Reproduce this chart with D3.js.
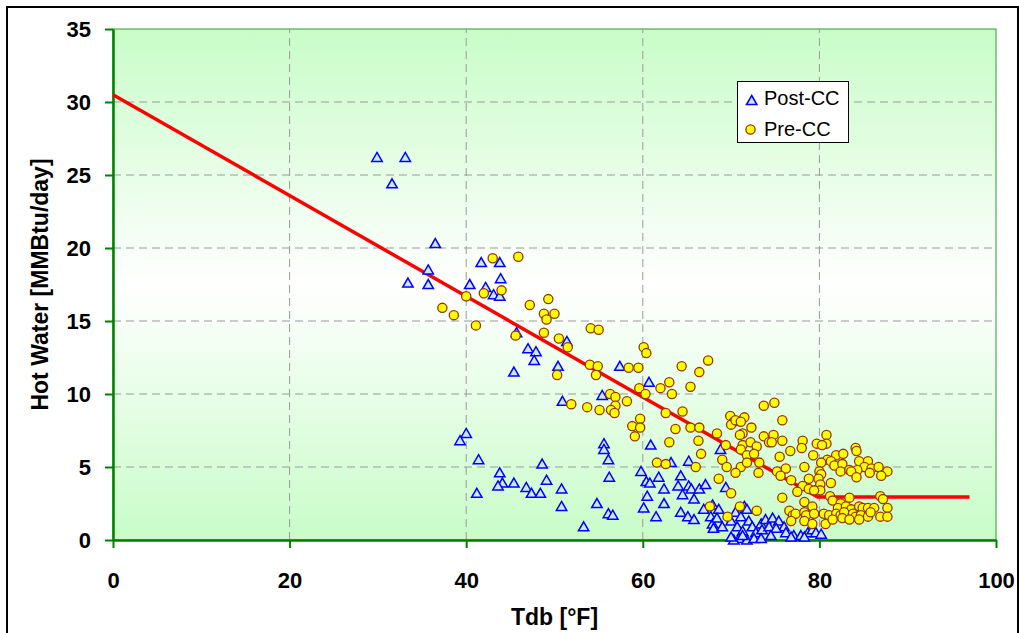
<!DOCTYPE html>
<html>
<head>
<meta charset="utf-8">
<script src="https://cdn.jsdelivr.net/npm/d3@7/dist/d3.min.js"></script>
<style>
  html, body { margin: 0; padding: 0; background: #ffffff; }
  svg { display: block; }
  text { font-family: "Liberation Sans", Arial, sans-serif; }
</style>
</head>
<body>
<svg id="chart" width="1019" height="633"></svg>
<script>
// ---------------- DATA ----------------
const xTicks = [0, 20, 40, 60, 80, 100];
const yTicks = [0, 5, 10, 15, 20, 25, 30, 35];
const xTitle = "Tdb [°F]";
const yTitle = "Hot Water [MMBtu/day]";
const seriesNames = ["Post-CC", "Pre-CC"];

// Post-CC (triangles): [Tdb, Hot Water]
const postCC = [
  [29.9,26.2],[31.6,24.4],[33.1,26.2],[36.5,20.3],[35.7,18.5],[33.4,17.6],[35.7,17.5],[40.4,17.5],
  [41.7,19.0],[43.8,19.0],[43.9,17.9],[42.2,17.3],[43.1,16.8],[43.8,16.7],[45.7,14.2],[47.0,13.1],
  [47.9,12.9],[47.7,12.3],[45.4,11.5],[50.4,11.9],[51.4,13.6],[50.9,9.5],[55.4,9.9],[57.4,11.9],
  [60.7,10.8],[40.0,7.3],[39.3,6.8],[41.4,5.5],[41.2,3.2],[43.8,4.6],[44.1,3.9],[43.6,3.7],
  [45.4,3.9],[46.8,3.6],[47.4,3.2],[48.4,3.2],[49.1,4.1],[48.6,5.2],[50.8,3.5],[50.8,2.3],
  [53.3,0.9],[54.8,2.5],[56.1,1.8],[56.6,1.7],[55.6,6.6],[55.6,6.2],[56.1,5.5],[56.2,4.3],
  [59.8,4.7],[60.4,4.0],[60.8,3.9],[60.5,3.0],[60.1,2.2],[61.5,1.6],[61.8,4.3],[62.4,3.5],
  [62.4,2.5],[60.9,6.5],[63.2,5.3],[64.3,4.4],[64.0,3.7],[64.5,3.1],[65.2,5.4],[65.2,3.7],
  [65.5,3.5],[65.8,2.8],[66.4,3.5],[64.3,1.9],[65.1,1.6],[65.8,1.4],[68.8,6.2],[67.1,3.8],
  [69.4,3.6],[66.9,2.1],[67.9,2.4],[68.6,2.1],[67.7,1.6],[67.9,1.1],[68.4,1.5],[68.0,0.8],
  [69.0,0.9],[70.0,1.3],[70.5,1.9],[71.1,1.6],[71.5,2.3],[71.8,2.1],[70.7,0.9],[71.3,0.6],
  [72.0,1.3],[72.4,0.9],[72.8,0.5],[73.4,1.1],[73.5,0.7],[73.9,1.4],[74.3,0.9],[70.9,0.1],
  [71.8,0.0],[72.6,0.1],[70.3,0.0],[74.7,1.5],[75.4,1.3],[76.0,0.9],[75.1,0.8],[76.2,0.5],
  [77.1,0.3],[77.9,0.3],[78.7,0.5],[79.2,0.7],[79.6,0.5],[80.2,0.4],[78.3,0.2],[76.8,0.2],
  [70.0,0.2],[71.3,0.3],[73.4,0.1],[74.5,0.3]
];

// Pre-CC (circles): [Tdb, Hot Water]
const preCC = [
  [43.0,19.3],[45.9,19.4],[40.0,16.7],[42.0,16.9],[44.0,17.1],[37.3,15.9],[38.6,15.4],[41.1,14.7],
  [47.2,16.1],[49.3,16.5],[48.8,15.5],[50.0,15.5],[49.1,15.1],[48.8,14.2],[45.6,14.0],[50.5,13.8],
  [51.5,13.2],[50.3,11.3],[54.1,14.5],[55.0,14.4],[54.0,12.0],[54.9,11.9],[54.7,11.3],[51.9,9.3],
  [53.7,9.1],[55.1,8.9],[56.3,10.0],[56.9,9.8],[56.9,9.2],[56.4,8.9],[56.8,8.7],[58.2,9.5],
  [58.4,11.8],[59.5,11.8],[60.1,13.2],[60.4,12.8],[59.6,10.4],[60.3,10.0],[58.8,7.8],[59.7,8.3],
  [59.7,7.7],[59.1,7.1],[62.0,10.4],[63.0,10.8],[63.3,10.0],[64.4,11.9],[65.4,10.5],[66.4,11.5],
  [67.4,12.3],[62.6,8.7],[64.5,8.8],[63.7,7.6],[65.4,7.7],[66.4,7.7],[63.0,6.7],[66.3,6.8],
  [66.6,5.9],[61.6,5.3],[62.6,5.2],[66.0,5.0],[68.4,7.3],[69.9,8.5],[70.3,8.1],[70.0,7.9],
  [70.5,8.2],[71.5,8.4],[71.1,8.1],[72.3,7.7],[71.3,7.3],[71.0,7.2],[73.7,7.1],[74.3,6.7],
  [69.4,6.5],[71.3,6.5],[72.2,6.7],[72.9,6.4],[71.1,6.2],[71.8,5.8],[72.6,5.9],[69.0,5.5],
  [69.5,5.0],[71.1,5.0],[71.8,5.3],[73.2,5.3],[70.5,4.6],[73.1,4.6],[68.6,4.2],[70.0,3.2],
  [67.6,2.3],[71.0,2.3],[69.6,1.6],[72.9,2.0],[73.7,9.2],[74.9,9.4],[75.8,8.2],[74.8,7.2],
  [75.8,6.8],[74.6,6.7],[78.1,6.8],[78.0,6.3],[79.7,6.6],[80.8,7.2],[80.8,6.6],[80.3,6.5],
  [76.7,6.1],[79.3,5.8],[75.5,5.7],[84.1,6.3],[84.2,6.1],[80.9,5.5],[81.9,5.8],[82.7,5.9],
  [80.2,5.3],[81.3,5.4],[81.7,5.1],[82.6,5.2],[82.4,4.7],[83.4,4.8],[84.5,5.4],[85.5,5.4],
  [85.1,5.0],[85.9,4.9],[86.7,5.0],[87.7,4.7],[84.3,4.8],[83.6,4.7],[84.2,4.3],[85.7,4.6],
  [87.0,4.4],[76.2,4.9],[78.3,5.0],[75.2,4.7],[75.6,4.4],[80.0,4.7],[80.2,4.5],[79.9,4.2],
  [78.8,4.2],[76.8,4.1],[81.3,3.9],[80.1,3.8],[78.1,3.7],[78.8,3.5],[80.1,3.4],[77.5,3.3],
  [75.8,2.9],[81.2,3.0],[81.5,2.7],[83.4,2.9],[78.3,2.6],[86.9,3.0],[87.2,2.8],[79.2,2.3],
  [82.4,2.5],[82.1,2.2],[83.0,2.3],[83.6,2.1],[84.5,2.3],[84.9,2.2],[85.5,2.2],[86.2,2.2],
  [87.7,2.2],[76.6,2.0],[77.0,1.7],[77.3,1.8],[78.3,1.9],[78.5,1.7],[79.4,1.8],[80.5,1.8],
  [81.1,1.7],[81.9,1.8],[82.4,1.7],[82.8,1.9],[83.8,1.8],[84.1,1.6],[84.7,1.7],[85.5,1.6],
  [85.8,1.9],[86.9,1.6],[87.7,1.6],[76.8,1.3],[78.3,1.3],[79.2,1.1],[80.7,1.1],[81.5,1.4],
  [82.6,1.5],[83.4,1.4],[84.5,1.4],[79.4,3.4]
];

// Fitted change-point model line
const fitLine = [[0, 30.5], [79.8, 2.95], [97, 2.95]];

// ---------------- CHART ----------------
const svg = d3.select("#chart");
const W = 1019, H = 633;
const plot = { left: 113, right: 996, top: 29, bottom: 540 };

const x = d3.scaleLinear().domain([0, 100]).range([plot.left, plot.right]);
const y = d3.scaleLinear().domain([0, 35]).range([plot.bottom, plot.top]);

// outer border
svg.append("rect")
  .attr("x", 7).attr("y", 7).attr("width", 1011).attr("height", 640)
  .attr("fill", "#ffffff").attr("stroke", "#000000").attr("stroke-width", 2);

// gradient background
const defs = svg.append("defs");
const grad = defs.append("linearGradient").attr("id", "bg")
  .attr("x1", 0).attr("y1", 0).attr("x2", 0).attr("y2", 1);
grad.append("stop").attr("offset", "0%").attr("stop-color", "#c8fcc8");
grad.append("stop").attr("offset", "50%").attr("stop-color", "#ffffff");
grad.append("stop").attr("offset", "100%").attr("stop-color", "#c8fcc8");

svg.append("rect")
  .attr("x", x(0)).attr("y", y(35))
  .attr("width", x(100) - x(0)).attr("height", y(0) - y(35))
  .attr("fill", "url(#bg)")
  .attr("stroke", "#2e9a2e").attr("stroke-width", 1);

// gridlines
const grid = svg.append("g").attr("stroke", "#9a9a9a").attr("stroke-width", 1)
  .attr("stroke-dasharray", "8,5");
grid.selectAll("line.h").data(yTicks.filter(v => v > 0 && v < 35)).join("line")
  .attr("x1", x(0)).attr("x2", x(100))
  .attr("y1", d => y(d)).attr("y2", d => y(d));
grid.selectAll("line.v").data(xTicks.filter(v => v > 0 && v < 100)).join("line")
  .attr("y1", y(0)).attr("y2", y(35))
  .attr("x1", d => x(d)).attr("x2", d => x(d));

// axes
const axisColor = "#008000";
const yAxis = svg.append("g").attr("transform", `translate(${x(0)},0)`)
  .call(d3.axisLeft(y).tickValues(yTicks).tickSize(8).tickSizeOuter(0).tickPadding(14).tickFormat(d3.format("d")));
const xAxis = svg.append("g").attr("transform", `translate(0,${y(0)})`)
  .call(d3.axisBottom(x).tickValues(xTicks).tickSize(8).tickSizeOuter(0).tickPadding(24).tickFormat(d3.format("d")));

[xAxis, yAxis].forEach(g => {
  g.select(".domain").attr("stroke", axisColor).attr("stroke-width", 2.5);
  g.selectAll(".tick line").attr("stroke", axisColor).attr("stroke-width", 2);
  g.selectAll(".tick text")
    .attr("fill", "#000")
    .style("font-family", "'Liberation Sans', Arial, sans-serif")
    .style("font-size", "22px")
    .style("font-weight", "bold");
});

// axis titles
svg.append("text")
  .attr("x", (plot.left + plot.right) / 2).attr("y", 625)
  .attr("text-anchor", "middle")
  .style("font-size", "23px").style("font-weight", "bold")
  .text(xTitle);
svg.append("text")
  .attr("transform", `translate(48,${(plot.top + plot.bottom) / 2}) rotate(-90)`)
  .attr("text-anchor", "middle")
  .style("font-size", "23px").style("font-weight", "bold")
  .text(yTitle);

// fit line
svg.append("path")
  .datum(fitLine)
  .attr("d", d3.line().x(d => x(d[0])).y(d => y(d[1])))
  .attr("fill", "none").attr("stroke", "#ff0000").attr("stroke-width", 3.5)
  .attr("stroke-linejoin", "round");

// markers
const triPath = "M0,-5L5.2,4L-5.2,4Z";
const triFill = "#cce8ff", triStroke = "#0000ff";
const cirFill = "#ffff00", cirStroke = "#993300";

svg.append("g").selectAll("path").data(postCC).join("path")
  .attr("d", triPath)
  .attr("transform", d => `translate(${x(d[0])},${y(d[1])})`)
  .attr("fill", triFill).attr("stroke", triStroke).attr("stroke-width", 1.5);

svg.append("g").selectAll("circle").data(preCC).join("circle")
  .attr("cx", d => x(d[0])).attr("cy", d => y(d[1])).attr("r", 4.6)
  .attr("fill", cirFill).attr("stroke", cirStroke).attr("stroke-width", 1.3);

// legend
const lg = svg.append("g");
lg.append("rect").attr("x", 737.5).attr("y", 81.5).attr("width", 111).attr("height", 61)
  .attr("fill", "#ffffff").attr("stroke", "#000000").attr("stroke-width", 1);
lg.append("path").attr("d", triPath).attr("transform", "translate(751.7,100.5)")
  .attr("fill", triFill).attr("stroke", triStroke).attr("stroke-width", 1.5);
lg.append("circle").attr("cx", 750.5).attr("cy", 129.5).attr("r", 4.6)
  .attr("fill", cirFill).attr("stroke", cirStroke).attr("stroke-width", 1.3);
lg.append("text").attr("x", 764).attr("y", 104.5).style("font-size", "20px").text(seriesNames[0]);
lg.append("text").attr("x", 764).attr("y", 135.5).style("font-size", "20px").text(seriesNames[1]);
</script>
</body>
</html>
